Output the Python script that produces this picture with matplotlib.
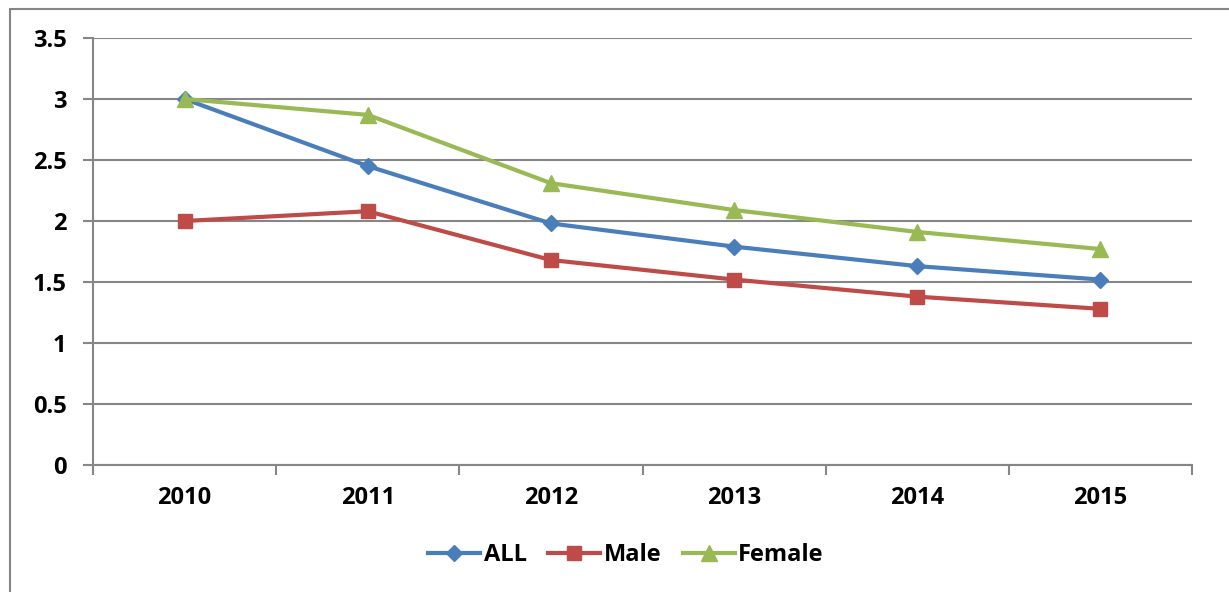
import matplotlib.pyplot as plt
from matplotlib.patches import Rectangle

years = ['2010', '2011', '2012', '2013', '2014', '2015']
all_vals = [3.0, 2.45, 1.98, 1.79, 1.63, 1.52]
male_vals = [2.0, 2.08, 1.68, 1.52, 1.38, 1.28]
female_vals = [3.0, 2.87, 2.31, 2.09, 1.91, 1.77]

plt.rcParams['font.family'] = ['Open Sans', 'DejaVu Sans']
plt.rcParams['font.weight'] = 'bold'

fig = plt.figure(figsize=(12.29, 5.92), dpi=100)
ax = fig.add_axes([93/1229, 1 - 465/592, (1192 - 93)/1229, (465 - 38)/592])

# outer chart border (cut off at right and bottom)
fig.patches.append(Rectangle((10/1229, -0.1), 1.1, 1.1 - 9/592, transform=fig.transFigure,
                             fill=False, edgecolor='#868686', linewidth=1.5, clip_on=False))

x = range(len(years))
ax.plot(x, all_vals, color='#4A7EBB', lw=3, marker='D', ms=8, label='ALL')
ax.plot(x, male_vals, color='#BE4B48', lw=3, marker='s', ms=10, label='Male')
ax.plot(x, female_vals, color='#98B954', lw=3, marker='^', ms=11, label='Female')

ax.set_xlim(-0.5, 5.5)
ax.set_ylim(0, 3.5)
ax.set_yticks([0, 0.5, 1, 1.5, 2, 2.5, 3, 3.5])
ax.set_yticklabels(['0', '0.5', '1', '1.5', '2', '2.5', '3', '3.5'])
ax.set_xticks(list(x))
ax.set_xticklabels(years)
ax.set_xticks([i - 0.5 for i in range(len(years) + 1)], minor=True)
ax.tick_params(axis='x', which='major', length=0, pad=15, labelsize=17)
ax.tick_params(axis='x', which='minor', length=7, color='#868686', width=1.5)
ax.tick_params(axis='y', length=7, color='#868686', width=1.5, pad=12, labelsize=17)

ax.grid(axis='y', color='#868686', lw=1.5)
ax.set_axisbelow(True)
for s in ['top', 'right']:
    ax.spines[s].set_visible(False)
for s in ['left', 'bottom']:
    ax.spines[s].set_color('#868686')
    ax.spines[s].set_linewidth(1.5)

leg = fig.legend(loc='center', bbox_to_anchor=(626/1229, 1 - 555/592), ncol=3, frameon=False,
                 fontsize=17, handlelength=2.2, columnspacing=0.9, handletextpad=0.15)

fig.savefig('out.png', dpi=100)
